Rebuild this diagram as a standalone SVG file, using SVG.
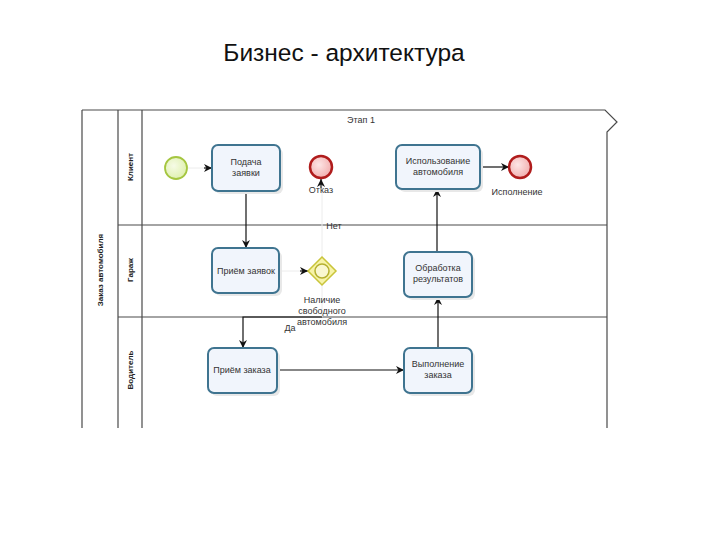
<svg xmlns="http://www.w3.org/2000/svg" width="720" height="540" viewBox="0 0 720 540">
<style>
.ln{stroke:#4a4a4a;stroke-width:1.2;fill:none}
.task rect{fill:#f1f5fc;stroke:#3f7490;stroke-width:2}
.t{font-family:"Liberation Sans",Arial,sans-serif;font-size:9px;fill:#333;text-anchor:middle}
.lane{font-family:"Liberation Sans",Arial,sans-serif;font-size:8px;font-weight:bold;fill:#222;text-anchor:middle}
.c{stroke:#111;stroke-width:1.2;fill:none}
.cl{stroke:#ececec;stroke-width:1;fill:none}
</style>
<defs>
<marker id="ah" viewBox="0 0 10 10" refX="10" refY="5" markerWidth="8" markerHeight="8" markerUnits="userSpaceOnUse" orient="auto">
<path d="M0,0 L10,5 L0,10 L3,5 z" fill="#111"/>
</marker>
<radialGradient id="gend" cx="0.4" cy="0.4" r="0.7"><stop offset="0" stop-color="#fde6e6"/><stop offset="1" stop-color="#f0a8a8"/></radialGradient>
<radialGradient id="gst" cx="0.4" cy="0.4" r="0.7"><stop offset="0" stop-color="#f6fbe6"/><stop offset="1" stop-color="#dcefa8"/></radialGradient>
</defs>
<rect width="720" height="540" fill="#fff"/>
<text x="344" y="61" font-family="'Liberation Sans',Arial,sans-serif" font-size="24.5" fill="#111" text-anchor="middle">Бизнес - архитектура</text>

<g id="pool">
<path class="ln" d="M82,110 H605 L617,122 L607,132 V428"/>
<path class="ln" d="M82,110 V428 M118,110 V428 M142,110 V428 M118,225 H607 M118,317 H607"/>
<text class="lane" transform="translate(103,270) rotate(-90)">Заказ автомобиля</text>
<text class="lane" transform="translate(133,167) rotate(-90)">Клиент</text>
<text class="lane" transform="translate(133,270) rotate(-90)">Гараж</text>
<text class="lane" transform="translate(133,370) rotate(-90)">Водитель</text>
<text class="t" x="361" y="123">Этап 1</text>
</g>

<g id="connectors">
<line class="cl" x1="188" y1="168" x2="211" y2="168"/>
<line class="c" x1="204" y1="168" x2="212" y2="168" marker-end="url(#ah)"/>
<line class="c" x1="246" y1="191" x2="246" y2="248" marker-end="url(#ah)"/>
<line class="cl" x1="279" y1="271" x2="307" y2="271"/>
<line class="c" x1="300" y1="271" x2="308" y2="271" marker-end="url(#ah)"/>
<line class="cl" x1="322" y1="257" x2="322" y2="179"/>
<line class="c" x1="321" y1="188" x2="321" y2="179" marker-end="url(#ah)"/>
<path class="cl" d="M322,285 V317"/>
<path class="c" d="M322,317 H243 V348" marker-end="url(#ah)"/>
<line class="c" x1="277" y1="370" x2="404" y2="370" marker-end="url(#ah)"/>
<line class="c" x1="438" y1="348" x2="438" y2="297" marker-end="url(#ah)"/>
<line class="c" x1="437" y1="252" x2="437" y2="189" marker-end="url(#ah)"/>
<line class="c" x1="480" y1="167" x2="509" y2="167" marker-end="url(#ah)"/>
<text class="t" x="334" y="229">Нет</text>
<text class="t" x="290" y="331">Да</text>
</g>

<g id="start">
<circle cx="176" cy="168" r="11" fill="url(#gst)" stroke="#a5c640" stroke-width="1.8"/>
</g>

<g id="task-podacha" class="task">
<rect x="215" y="148" width="68" height="46" rx="6" style="fill:#e8e8e8;stroke:none"/>
<rect x="212" y="145" width="68" height="46" rx="6"/>
<text class="t" x="246" y="165">Подача</text>
<text class="t" x="246" y="176">заявки</text>
</g>

<g id="end-otkaz">
<circle cx="321" cy="167" r="11" fill="url(#gend)" stroke="#b01c1c" stroke-width="2.5"/>
<text class="t" x="321" y="193">Отказ</text>
</g>

<g id="task-ispolzovanie" class="task">
<rect x="399" y="148" width="84" height="44" rx="6" style="fill:#e8e8e8;stroke:none"/>
<rect x="396" y="145" width="84" height="44" rx="6"/>
<text class="t" x="438" y="164">Использование</text>
<text class="t" x="438" y="175">автомобиля</text>
</g>

<g id="end-ispolnenie">
<circle cx="520" cy="167" r="11" fill="url(#gend)" stroke="#b01c1c" stroke-width="2.5"/>
<text class="t" x="517" y="195">Исполнение</text>
</g>

<g id="task-priem-zayavok" class="task">
<rect x="215" y="251" width="67" height="45" rx="6" style="fill:#e8e8e8;stroke:none"/>
<rect x="212" y="248" width="67" height="45" rx="6"/>
<text class="t" x="246" y="274">Приём заявок</text>
</g>

<g id="gateway">
<path d="M322,257 L336,271 L322,285 L308,271 z" fill="#f7f3a8" stroke="#c9c43a" stroke-width="1.5"/>
<circle cx="322" cy="271" r="7" fill="#f9f7d0" stroke="#b5b030" stroke-width="1.5"/>
<text class="t" x="322" y="303">Наличие</text>
<text class="t" x="322" y="314">свободного</text>
<text class="t" x="322" y="325">автомобиля</text>
</g>

<g id="task-obrabotka" class="task">
<rect x="407" y="255" width="68" height="45" rx="6" style="fill:#e8e8e8;stroke:none"/>
<rect x="404" y="252" width="68" height="45" rx="6"/>
<text class="t" x="438" y="271">Обработка</text>
<text class="t" x="438" y="282">результатов</text>
</g>

<g id="task-priem-zakaza" class="task">
<rect x="211" y="351" width="69" height="45" rx="6" style="fill:#e8e8e8;stroke:none"/>
<rect x="208" y="348" width="69" height="45" rx="6"/>
<text class="t" x="242" y="373">Приём заказа</text>
</g>

<g id="task-vypolnenie" class="task">
<rect x="407" y="351" width="68" height="45" rx="6" style="fill:#e8e8e8;stroke:none"/>
<rect x="404" y="348" width="68" height="45" rx="6"/>
<text class="t" x="438" y="367">Выполнение</text>
<text class="t" x="438" y="378">заказа</text>
</g>
</svg>
